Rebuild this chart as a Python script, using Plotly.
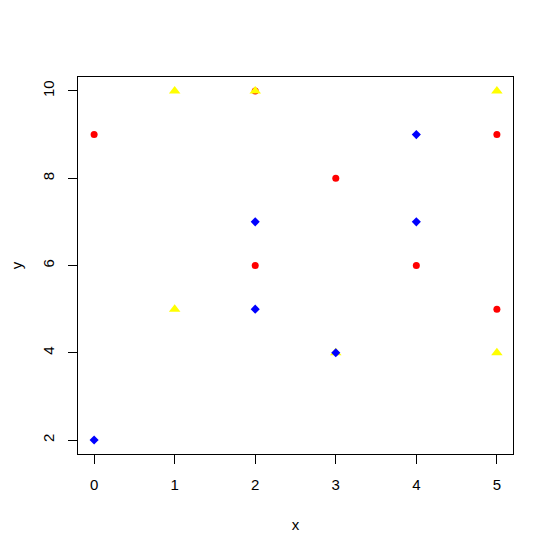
import plotly.graph_objects as go

red_x = [0, 2, 2, 3, 4, 5, 5]
red_y = [9, 10, 6, 8, 6, 9, 5]
yellow_x = [1, 1, 2, 3, 5, 5]
yellow_y = [10, 5, 10, 4, 10, 4]
blue_x = [0, 2, 2, 3, 4, 4]
blue_y = [2, 7, 5, 4, 9, 7]

x_ticks = [0, 1, 2, 3, 4, 5]
y_ticks = [2, 4, 6, 8, 10]

fig = go.Figure()
fig.add_trace(go.Scatter(x=red_x, y=red_y, mode="markers",
                         marker=dict(symbol="circle", size=7, color="red", line=dict(width=0))))
fig.add_trace(go.Scatter(x=yellow_x, y=yellow_y, mode="markers",
                         marker=dict(symbol="triangle-up", size=10, color="yellow", line=dict(width=0))))
fig.add_trace(go.Scatter(x=blue_x, y=blue_y, mode="markers",
                         marker=dict(symbol="diamond", size=7, color="blue", line=dict(width=0))))

font = dict(family="Liberation Sans, Arial", size=15, color="black")
axis_common = dict(showgrid=False, zeroline=False, showline=True, mirror=True,
                   linecolor="black", linewidth=1, ticks="outside", ticklen=9,
                   tickcolor="black", tickwidth=1, automargin=False,
                   ticklabelstandoff=8, tickfont=font)

fig.update_layout(
    width=545, height=544,
    margin=dict(l=70, r=40, t=69, b=98, autoexpand=False),
    paper_bgcolor="white", plot_bgcolor="white",
    showlegend=False,
    xaxis=dict(range=[-0.2, 5.2], tickvals=x_ticks, ticktext=[str(v) for v in x_ticks],
               title=dict(text="x", standoff=27, font=font),
               **axis_common),
    yaxis=dict(range=[1.68, 10.32], tickvals=y_ticks, ticktext=[str(v) for v in y_ticks],
               tickangle=-90,
               title=dict(text="y", standoff=30, font=font),
               **axis_common),
)

fig.write_html("out.html")
